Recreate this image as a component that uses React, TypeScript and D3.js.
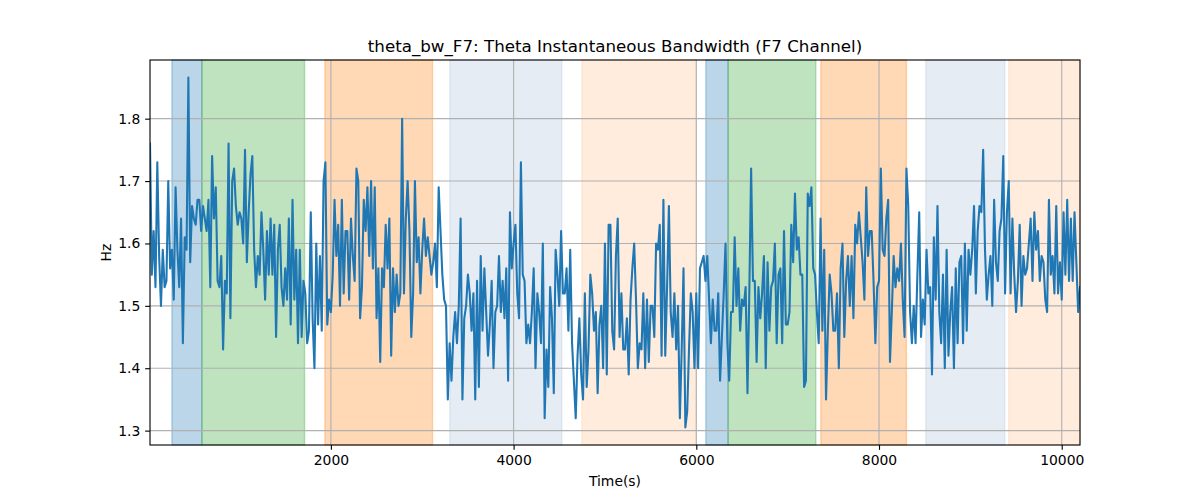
import { useEffect, useRef } from 'react';
import * as d3 from 'd3';

// theta bandwidth (Hz), one value every 20 s
const bwPart1 = [
  1.76, 1.55, 1.62, 1.53, 1.73, 1.58, 1.5, 1.59, 1.53, 1.54, 1.7, 1.56, 1.59, 1.51, 1.69, 1.59, 1.53, 1.64, 1.44, 1.61,
  1.59, 1.866, 1.57, 1.66, 1.64, 1.63, 1.67, 1.67, 1.62, 1.66, 1.64, 1.62, 1.67, 1.53, 1.74, 1.64, 1.69, 1.54, 1.53, 1.58,
  1.43, 1.54, 1.52, 1.76, 1.48, 1.7, 1.72, 1.66, 1.63, 1.65, 1.64, 1.6, 1.75, 1.57, 1.65, 1.71,
];
const bwPart2 = [
  1.74, 1.59, 1.53, 1.58, 1.55, 1.65, 1.59, 1.51, 1.62, 1.55, 1.64, 1.55, 1.63, 1.45, 1.59, 1.63, 1.53, 1.5, 1.56, 1.51,
  1.64, 1.47, 1.67, 1.51, 1.59, 1.44, 1.59, 1.45, 1.54, 1.52, 1.44, 1.46, 1.65, 1.48, 1.4, 1.6, 1.47, 1.58, 1.46, 1.7,
  1.73, 1.47, 1.51, 1.49, 1.55, 1.67, 1.58, 1.63, 1.5, 1.67, 1.52, 1.62, 1.62, 1.51, 1.64, 1.58, 1.54,
];
const bwPart3 = [
  1.72, 1.7, 1.48, 1.53, 1.67, 1.62, 1.69, 1.58, 1.7, 1.56, 1.69, 1.48, 1.56, 1.41, 1.56, 1.53, 1.63, 1.56, 1.64, 1.42,
  1.56, 1.49, 1.55, 1.5, 1.52, 1.8, 1.52, 1.64, 1.7, 1.62, 1.45, 1.52, 1.7, 1.57, 1.61, 1.52, 1.59, 1.64, 1.58, 1.61,
  1.58, 1.55, 1.57, 1.6, 1.53, 1.69, 1.62, 1.55, 1.51, 1.5, 1.35, 1.44, 1.38, 1.45, 1.49, 1.44, 1.5,
];
const bwPart4 = [
  1.64, 1.35, 1.48, 1.5, 1.55, 1.52, 1.46, 1.52, 1.35, 1.54, 1.37, 1.58, 1.46, 1.56, 1.49, 1.42, 1.47, 1.54, 1.4, 1.49,
  1.5, 1.58, 1.49, 1.54, 1.48, 1.56, 1.38, 1.65, 1.56, 1.6, 1.63, 1.52, 1.48, 1.73, 1.55, 1.54, 1.44, 1.47, 1.44, 1.49,
  1.56, 1.4, 1.52, 1.49, 1.44, 1.6, 1.32, 1.43, 1.37, 1.53, 1.48, 1.36, 1.59, 1.55, 1.5, 1.62, 1.52,
];
const bwPart5 = [
  1.52, 1.56, 1.46, 1.59, 1.44, 1.38, 1.32, 1.42, 1.48, 1.39, 1.35, 1.52, 1.37, 1.43, 1.55, 1.52, 1.46, 1.49, 1.36, 1.47,
  1.5, 1.4, 1.6, 1.39, 1.63, 1.63, 1.46, 1.43, 1.58, 1.64, 1.45, 1.52, 1.43, 1.43, 1.48, 1.39, 1.51, 1.56, 1.6, 1.51,
  1.4, 1.44, 1.43, 1.52, 1.4, 1.51, 1.41, 1.5, 1.5, 1.45, 1.6, 1.59, 1.63, 1.42, 1.67, 1.42, 1.53,
];
const bwPart6 = [
  1.66, 1.49, 1.45, 1.52, 1.43, 1.5, 1.32, 1.43, 1.56, 1.305, 1.33, 1.43, 1.52, 1.49, 1.4, 1.52, 1.4, 1.56, 1.57, 1.58,
  1.54, 1.58, 1.51, 1.44, 1.51, 1.46, 1.46, 1.52, 1.38, 1.45, 1.52, 1.6, 1.44, 1.38, 1.49, 1.49, 1.61, 1.5, 1.56, 1.46,
  1.51, 1.5, 1.53, 1.36, 1.52, 1.72, 1.54, 1.54, 1.41, 1.53, 1.48, 1.52, 1.58, 1.4, 1.57, 1.46, 1.53,
];
const bwPart7 = [
  1.54, 1.6, 1.44, 1.55, 1.56, 1.44, 1.62, 1.47, 1.47, 1.49, 1.63, 1.57, 1.68, 1.59, 1.61, 1.55, 1.55, 1.37, 1.38, 1.68,
  1.66, 1.69, 1.56, 1.55, 1.49, 1.44, 1.64, 1.46, 1.59, 1.35, 1.46, 1.55, 1.52, 1.46, 1.46, 1.52, 1.4, 1.56, 1.6, 1.45,
  1.54, 1.58, 1.5, 1.58, 1.48, 1.63, 1.6, 1.65, 1.61, 1.57, 1.51, 1.69, 1.58, 1.62, 1.62, 1.54, 1.44,
];
const bwPart8 = [
  1.53, 1.54, 1.72, 1.59, 1.58, 1.64, 1.67, 1.41, 1.49, 1.58, 1.53, 1.56, 1.54, 1.6, 1.51, 1.45, 1.72, 1.66, 1.49, 1.44,
  1.5, 1.44, 1.55, 1.65, 1.45, 1.51, 1.47, 1.59, 1.52, 1.53, 1.39, 1.61, 1.51, 1.66, 1.49, 1.44, 1.55, 1.4, 1.59, 1.42,
  1.49, 1.53, 1.4, 1.56, 1.44, 1.57, 1.58, 1.44, 1.6, 1.46, 1.59, 1.55, 1.59, 1.66, 1.52, 1.62, 1.66,
];
const bwPart9 = [
  1.65, 1.75, 1.59, 1.51, 1.55, 1.58, 1.5, 1.67, 1.57, 1.54, 1.62, 1.64, 1.74, 1.52, 1.65, 1.7, 1.52, 1.64, 1.55, 1.49,
  1.54, 1.63, 1.5, 1.58, 1.55, 1.56, 1.6, 1.64, 1.54, 1.65, 1.59, 1.62, 1.54, 1.58, 1.57, 1.51, 1.49, 1.67, 1.55, 1.58,
  1.52, 1.66, 1.52, 1.57, 1.51, 1.65, 1.55, 1.67, 1.54, 1.64, 1.54, 1.65, 1.57, 1.49, 1.53,
];
const bandwidth = [
  ...bwPart1, ...bwPart2, ...bwPart3, ...bwPart4, ...bwPart5, ...bwPart6, ...bwPart7, ...bwPart8, ...bwPart9,
];
const T0 = 20;
const STEP = 20;

// shaded segments (seconds)
const segStarts = [260, 588, 1934, 3302, 4747, 6104, 6348, 7363, 8512, 9420];
const segEnds = [588, 1712, 3113, 4528, 5994, 6348, 7308, 8300, 9376, 10200];
const segKinds = ['a', 'b', 'c', 'd', 'e', 'a', 'b', 'c', 'd', 'e'];

const xTicks = [2000, 4000, 6000, 8000, 10000];
const yTicks = [1.3, 1.4, 1.5, 1.6, 1.7, 1.8];

const kindFill: Record<string, [string, number]> = {
  a: ['#1f77b4', 0.3],
  b: ['#2ca02c', 0.3],
  c: ['#ff7f0e', 0.3],
  d: ['#b0c4de', 0.32],
  e: ['#ffdab9', 0.5],
};

const PT = 100 / 72; // matplotlib points -> px at 100 dpi

const App = () => {
  const ref = useRef<SVGSVGElement>(null);

  useEffect(() => {
    const width = 1200;
    const height = 500;
    const left = 150;
    const right = 1080;
    const top = 60;
    const bottom = 445;
    const font = "'DejaVu Sans', sans-serif";

    const times = bandwidth.map((_, i) => T0 + i * STEP);
    const [lo, hi] = d3.extent(bandwidth) as [number, number];
    const pad = (hi - lo) * 0.05;

    const x = d3.scaleLinear().domain([times[0], times[times.length - 1]]).range([left, right]);
    const y = d3.scaleLinear().domain([lo - pad, hi + pad]).range([bottom, top]);

    const svg = d3.select(ref.current).attr('width', width).attr('height', height);
    svg.selectAll('*').remove();

    svg.append('rect').attr('width', width).attr('height', height).attr('fill', '#fff');

    // shaded segments
    svg
      .append('g')
      .selectAll('rect')
      .data(segStarts.map((s, i) => ({ s, e: segEnds[i], k: segKinds[i] })))
      .join('rect')
      .attr('x', (d) => x(d.s))
      .attr('y', top)
      .attr('width', (d) => x(d.e) - x(d.s))
      .attr('height', bottom - top)
      .attr('fill', (d) => kindFill[d.k][0])
      .attr('fill-opacity', (d) => kindFill[d.k][1])
      .attr('stroke', (d) => kindFill[d.k][0])
      .attr('stroke-opacity', (d) => kindFill[d.k][1])
      .attr('stroke-width', PT);

    // grid
    const grid = svg.append('g').attr('stroke', '#b0b0b0').attr('stroke-width', 0.8 * PT);
    grid
      .selectAll('line.gx')
      .data(xTicks)
      .join('line')
      .attr('x1', (d) => x(d))
      .attr('x2', (d) => x(d))
      .attr('y1', top)
      .attr('y2', bottom);
    grid
      .selectAll('line.gy')
      .data(yTicks)
      .join('line')
      .attr('x1', left)
      .attr('x2', right)
      .attr('y1', (d) => y(d))
      .attr('y2', (d) => y(d));

    // series
    const line = d3
      .line<number>()
      .x((_, i) => x(times[i]))
      .y((d) => y(d));

    svg
      .append('defs')
      .append('clipPath')
      .attr('id', 'plot-clip')
      .append('rect')
      .attr('x', left)
      .attr('y', top)
      .attr('width', right - left)
      .attr('height', bottom - top);

    svg
      .append('path')
      .datum(bandwidth)
      .attr('clip-path', 'url(#plot-clip)')
      .attr('fill', 'none')
      .attr('stroke', '#1f77b4')
      .attr('stroke-width', 1.5 * PT)
      .attr('stroke-linejoin', 'round')
      .attr('stroke-linecap', 'square')
      .attr('d', line);

    // axes
    const xAxis = svg
      .append('g')
      .attr('transform', `translate(0,${bottom})`)
      .call(
        d3
          .axisBottom(x)
          .tickValues(xTicks)
          .tickSize(3.5 * PT)
          .tickPadding(3.5 * PT)
          .tickFormat(d3.format('d'))
      );
    const yAxis = svg
      .append('g')
      .attr('transform', `translate(${left},0)`)
      .call(
        d3
          .axisLeft(y)
          .tickValues(yTicks)
          .tickSize(3.5 * PT)
          .tickPadding(3.5 * PT)
          .tickFormat(d3.format('.1f'))
      );
    [xAxis, yAxis].forEach((g) => {
      g.select('.domain').remove();
      g.selectAll('.tick line').attr('stroke', '#000').attr('stroke-width', 0.8 * PT);
      g.selectAll('.tick text').attr('fill', '#000').style('font-family', font).style('font-size', '13.9px');
    });

    // frame
    svg
      .append('rect')
      .attr('x', left)
      .attr('y', top)
      .attr('width', right - left)
      .attr('height', bottom - top)
      .attr('fill', 'none')
      .attr('stroke', '#000')
      .attr('stroke-width', 0.8 * PT);

    // labels
    svg
      .append('text')
      .attr('x', (left + right) / 2)
      .attr('y', 52)
      .attr('text-anchor', 'middle')
      .style('font-family', font)
      .style('font-size', '16.7px')
      .text('theta_bw_F7: Theta Instantaneous Bandwidth (F7 Channel)');

    svg
      .append('text')
      .attr('x', (left + right) / 2)
      .attr('y', 486)
      .attr('text-anchor', 'middle')
      .style('font-family', font)
      .style('font-size', '13.9px')
      .text('Time(s)');

    svg
      .append('text')
      .attr('transform', `translate(111,${(top + bottom) / 2}) rotate(-90)`)
      .attr('text-anchor', 'middle')
      .style('font-family', font)
      .style('font-size', '13.9px')
      .text('Hz');
  }, []);

  return <svg ref={ref} style={{ position: 'absolute', left: 0, top: 0, display: 'block' }} />;
};

export default App;
